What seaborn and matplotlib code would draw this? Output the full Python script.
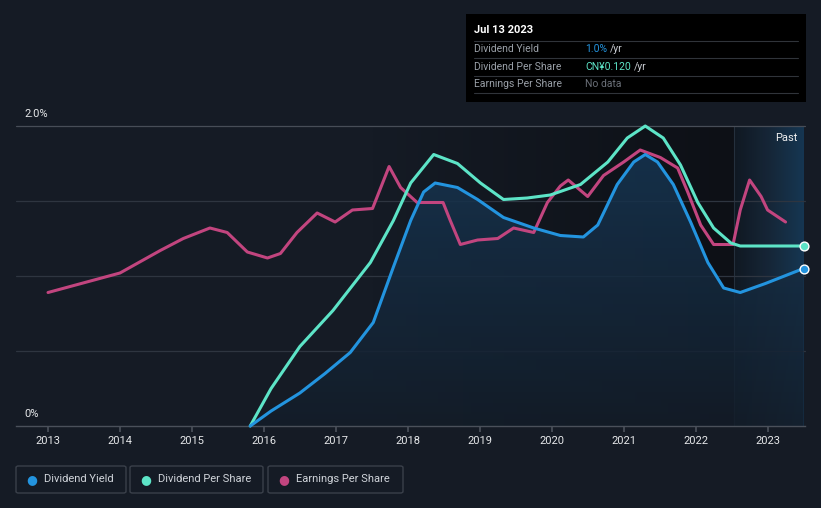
import numpy as np
import pandas as pd
import matplotlib.pyplot as plt
import seaborn as sns
from matplotlib.colors import LinearSegmentedColormap
from matplotlib.patches import Rectangle, FancyBboxPatch

# values (yield in %, the other two drawn on the same scale)
dy_year = [2015.81, 2016.1, 2016.5, 2016.85, 2017.2, 2017.52, 2017.8, 2018.04, 2018.22,
           2018.38, 2018.69, 2018.97, 2019.33, 2019.75, 2020.12, 2020.44, 2020.64,
           2020.91, 2021.14, 2021.3, 2021.47, 2021.69, 2021.93, 2022.17, 2022.39,
           2022.62, 2022.97, 2023.5]
dy_val = [0.0, 0.1, 0.22, 0.35, 0.49, 0.69, 1.06, 1.37, 1.56,
          1.62, 1.59, 1.51, 1.39, 1.32, 1.27, 1.26, 1.34,
          1.61, 1.76, 1.81, 1.76, 1.61, 1.36, 1.09, 0.92,
          0.89, 0.95, 1.05]

dps_year = [2015.81, 2016.1, 2016.5, 2016.96, 2017.48, 2017.8, 2018.04, 2018.36, 2018.69,
            2019.01, 2019.33, 2019.66, 2019.98, 2020.4, 2020.78, 2021.05, 2021.3,
            2021.55, 2021.79, 2022.03, 2022.25, 2022.49, 2022.62, 2023.5]
dps_val = [0.0, 0.25, 0.53, 0.77, 1.09, 1.37, 1.62, 1.81, 1.75,
           1.62, 1.51, 1.52, 1.54, 1.61, 1.76, 1.92, 2.0,
           1.92, 1.74, 1.49, 1.32, 1.22, 1.2, 1.2]

eps_year = [2013.0, 2014.0, 2014.56, 2014.88, 2015.25, 2015.49, 2015.77, 2016.05, 2016.23,
            2016.46, 2016.74, 2016.99, 2017.23, 2017.51, 2017.74, 2017.9, 2018.13,
            2018.49, 2018.59, 2018.73, 2018.97, 2019.25, 2019.47, 2019.75, 2019.94,
            2020.12, 2020.23, 2020.5, 2020.72, 2021.0, 2021.23, 2021.51, 2021.75,
            2021.89, 2022.07, 2022.25, 2022.52, 2022.62, 2022.75, 2022.91, 2023.0,
            2023.25]
eps_val = [0.89, 1.02, 1.17, 1.25, 1.32, 1.29, 1.16, 1.12, 1.15,
           1.29, 1.42, 1.36, 1.44, 1.45, 1.73, 1.59, 1.49,
           1.49, 1.37, 1.21, 1.24, 1.25, 1.32, 1.29, 1.49,
           1.6, 1.64, 1.53, 1.67, 1.76, 1.84, 1.79, 1.72,
           1.56, 1.34, 1.21, 1.21, 1.44, 1.64, 1.53, 1.44,
           1.36]

years = list(range(2013, 2024))
legend_names = ["Dividend Yield", "Dividend Per Share", "Earnings Per Share"]

BG = "#151b25"
BLUE = "#2394df"
TEAL = "#5de4c7"
PINK = "#c2457f"

sns.set_theme(style="dark")
plt.rcParams["font.family"] = ["Roboto", "DejaVu Sans"]

fig = plt.figure(figsize=(8.21, 5.08), dpi=100, facecolor=BG)
W, H = 821, 508
x0, x1, ytop, ybot = 16, 805, 126, 426
ax = fig.add_axes([x0 / W, 1 - ybot / H, (x1 - x0) / W, (ybot - ytop) / H])
ax.set_facecolor(BG)
xmin, xmax = 2012.555, 2023.52
ax.set_xlim(xmin, xmax)
ax.set_ylim(0, 2.0)

# plot-area background: darkening towards the right, then the "Past" band
past_start = 2022.53
dark = LinearSegmentedColormap.from_list("d", [BG, "#0d1016"])
ax.imshow(np.linspace(0, 1, 256).reshape(1, -1), cmap=dark, aspect="auto",
          extent=[2017.5, past_start, 0, 2.0], zorder=0)
band = LinearSegmentedColormap.from_list("p", ["#101822", "#16283a", "#173a58"])
ax.imshow(np.linspace(0, 1, 256).reshape(1, -1), cmap=band, aspect="auto",
          extent=[past_start, xmax - 0.02, 0, 2.0], zorder=0, alpha=0.9)
ax.axvline(past_start, color="#24303d", lw=0.8, zorder=1)

for yv in [0.5, 1.0, 1.5, 2.0]:
    ax.axhline(yv, color="#2e3540" if yv < 2 else "#474d57", lw=0.9, zorder=1)

# gradient fill under the dividend yield line
grad = LinearSegmentedColormap.from_list("g", ["#131d29", "#173653"])
img = ax.imshow(np.linspace(0, 1, 256).reshape(-1, 1), cmap=grad, aspect="auto",
                extent=[xmin, xmax, 0, 1.85], origin="lower", zorder=2, alpha=0.85)
poly = ax.fill_between(dy_year, dy_val, 0, color="none", lw=0)
img.set_clip_path(poly.get_paths()[0], transform=ax.transData)

dy = pd.DataFrame({"year": dy_year, "val": dy_val})
dps = pd.DataFrame({"year": dps_year, "val": dps_val})
eps = pd.DataFrame({"year": eps_year, "val": eps_val})
sns.lineplot(data=eps, x="year", y="val", color=PINK, lw=2.2, sort=False, ax=ax, zorder=3)
sns.lineplot(data=dps, x="year", y="val", color=TEAL, lw=2.2, sort=False, ax=ax, zorder=4)
sns.lineplot(data=dy, x="year", y="val", color=BLUE, lw=2.2, sort=False, ax=ax, zorder=5)
for line in ax.lines:
    line.set_clip_on(False)
    line.set_solid_joinstyle("round")
ax.scatter([dps_year[-1]], [dps_val[-1]], s=40, color=TEAL, edgecolor="white", lw=1, zorder=6, clip_on=False)
ax.scatter([dy_year[-1]], [dy_val[-1]], s=40, color=BLUE, edgecolor="white", lw=1, zorder=6, clip_on=False)

ax.set_xlabel("")
ax.set_ylabel("")
ax.set_yticks([])
ax.set_xticks(years)
ax.set_xticklabels([str(y) for y in years], color="#e6e8ea", fontsize=8)
ax.tick_params(axis="x", length=4, color="#4a505a", pad=3, bottom=True)
for s in ["top", "right", "left"]:
    ax.spines[s].set_visible(False)
ax.spines["bottom"].set_color("#4a505a")
ax.spines["bottom"].set_linewidth(1)

fig.text(24 / W, 1 - 114 / H, "2.0%", fontsize=8, color="#e6e8ea", va="center")
fig.text(24 / W, 1 - 414 / H, "0%", fontsize=8, color="#e6e8ea", va="center")
fig.text(797 / W, 1 - 138 / H, "Past", fontsize=8, color="#f0f0f0", va="center", ha="right")

# tooltip box
fig.patches.append(Rectangle((466 / W, 1 - 102 / H), 340 / W, 88 / H, transform=fig.transFigure,
                             facecolor="#000000", edgecolor="none", zorder=10))
fig.text(474 / W, 1 - 30 / H, "Jul 13 2023", fontsize=8, color="white", va="center", weight="bold", zorder=11)
rows = [("Dividend Yield", "1.0%", BLUE), ("Dividend Per Share", "CN¥0.120", TEAL),
        ("Earnings Per Share", "No data", "#6b7079")]
for i, (lab, val, col) in enumerate(rows):
    yy = 49 + i * 17.5
    fig.text(474 / W, 1 - yy / H, lab, fontsize=7.5, color="#9aa0a8", va="center", zorder=11)
    t = fig.text(585 / W, 1 - yy / H, val, fontsize=7.5, color=col, va="center", zorder=11)
    if val != "No data":
        fig.canvas.draw()
        bb = t.get_window_extent()
        fig.text((bb.x1 + 3) / W, 1 - yy / H, "/yr", fontsize=7.5, color="#c8ccd2", va="center", zorder=11)
for yy in [41, 58, 75.5, 93]:
    fig.lines.append(plt.Line2D([474 / W, 798 / W], [1 - yy / H, 1 - yy / H], transform=fig.transFigure,
                                color="#30343a", lw=0.8, zorder=11))

# legend boxes
boxes = [(16, 126), (130, 263), (268, 403)]
colors = [BLUE, TEAL, PINK]
for (bx0, bx1), name, col in zip(boxes, legend_names, colors):
    fig.patches.append(FancyBboxPatch((bx0 / W, 1 - 493 / H), (bx1 - bx0) / W, 27 / H,
                                      boxstyle="round,pad=0,rounding_size=0.003",
                                      transform=fig.transFigure, facecolor=BG,
                                      edgecolor="#3a404a", lw=1))
    fig.text((bx0 + 16) / W, 1 - 479.5 / H, "●", fontsize=9, color=col, va="center", ha="center")
    fig.text((bx0 + 28) / W, 1 - 479.5 / H, name, fontsize=8, color="#d0d4da", va="center")

fig.savefig("out.png", dpi=100, facecolor=BG)
